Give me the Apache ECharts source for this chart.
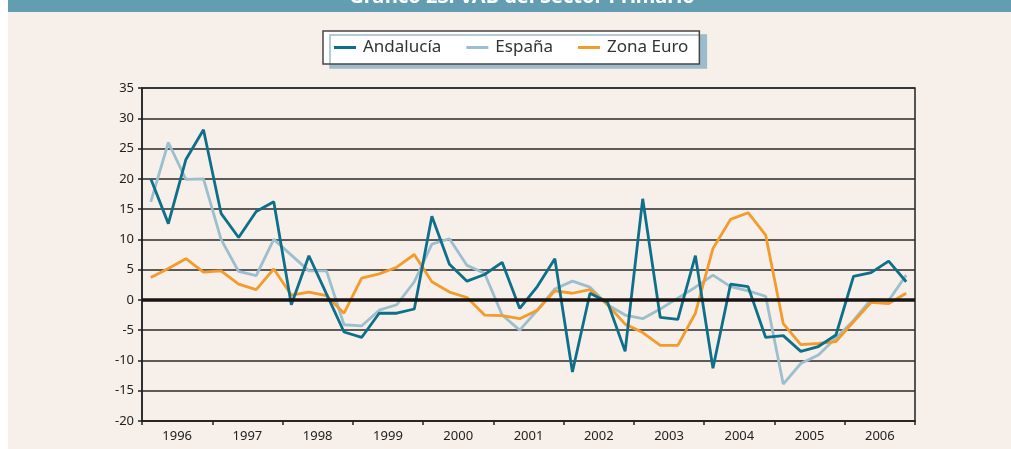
<!DOCTYPE html>
<html>
<head>
<meta charset="utf-8">
<script src="https://cdn.jsdelivr.net/npm/echarts@6/dist/echarts.min.js"></script>
<style>
  html, body { margin: 0; padding: 0; background: #ffffff; }
  #main { width: 1011px; height: 449px; }
</style>
</head>
<body>
<div id="main"></div>
<script>
var years = ['1996', '1997', '1998', '1999', '2000', '2001', '2002', '2003', '2004', '2005', '2006'];
var quarters = [];
years.forEach(function (y) {
    ['I', 'II', 'III', 'IV'].forEach(function (q) { quarters.push(y + '-' + q); });
});

var andalucia = [20, 12.6, 23.2, 28.1, 14.3, 10.3, 14.6, 16.2, -0.8, 7.3, 1.0, -5.3,
    -6.2, -2.2, -2.2, -1.5, 13.8, 5.9, 3.1, 4.2, 6.2, -1.4, 2.2, 6.8,
    -11.9, 1.1, -0.4, -8.5, 16.7, -2.9, -3.2, 7.3, -11.3, 2.6, 2.2, -6.2,
    -5.9, -8.5, -7.7, -5.8, 3.9, 4.5, 6.4, 3.0];
var espana = [16.2, 26.0, 19.9, 20.0, 10.0, 4.7, 4.0, 10.0, 7.4, 4.8, 4.8, -4.1,
    -4.3, -1.7, -0.8, 3.0, 9.2, 10.1, 5.7, 4.4, -2.5, -5.0, -1.7, 1.8,
    3.1, 2.1, -0.8, -2.5, -3.1, -1.5, 0.3, 2.1, 4.1, 2.2, 1.5, 0.6,
    -13.9, -10.5, -9.1, -6.3, -3.4, 0.1, -0.1, 4.1];
var zonaEuro = [3.7, 5.2, 6.8, 4.6, 4.8, 2.6, 1.7, 5.1, 0.8, 1.3, 0.7, -2.2,
    3.6, 4.3, 5.4, 7.5, 3.0, 1.3, 0.4, -2.5, -2.6, -3.1, -1.7, 1.5,
    1.1, 1.7, -0.8, -4.0, -5.4, -7.5, -7.5, -2.2, 8.5, 13.3, 14.4, 10.7,
    -3.9, -7.4, -7.2, -6.9, -3.6, -0.4, -0.6, 1.1];

var chartTitle = 'Gráfico 23. VAB del Sector Primario';

function drawChart() {
    var myChart = echarts.init(document.getElementById('main'));
    var font = 'Noto Sans';
    var option;

    option = {
        backgroundColor: '#f7efe9',
        textStyle: { fontFamily: font },
        animation: false,
        graphic: {
            elements: [
                { type: 'rect', left: 0, top: 0, shape: { width: 8, height: 449 }, style: { fill: '#ffffff' } },
                { type: 'rect', left: 8, top: 0, shape: { width: 1003, height: 12 }, style: { fill: '#629db1' } },
                {
                    // only the lower part of the title shows inside the band
                    type: 'text', x: 522, y: 7,
                    style: {
                        text: chartTitle, fill: '#ffffff', font: 'bold 20px "Noto Sans"',
                        textAlign: 'center', textVerticalAlign: 'bottom'
                    }
                }
            ]
        },
        legend: {
            data: ['Andalucía', 'España', 'Zona Euro'],
            left: 323,
            top: 31,
            padding: [8, 11, 8, 11],
            itemGap: 25,
            itemWidth: 22,
            itemHeight: 3,
            icon: 'rect',
            backgroundColor: '#ffffff',
            borderColor: '#4a4545',
            borderWidth: 1.5,
            shadowColor: '#9bbccb',
            shadowBlur: 0,
            shadowOffsetX: 7,
            shadowOffsetY: 4,
            textStyle: { fontSize: 17, color: '#333333', fontFamily: font, padding: [0, 0, 0, 2] }
        },
        grid: {
            left: 142,
            right: 96,
            top: 88,
            bottom: 28,
            show: true,
            borderColor: '#222222',
            borderWidth: 1.5,
            backgroundColor: 'transparent'
        },
        xAxis: [
            {
                type: 'category',
                data: quarters,
                boundaryGap: true,
                show: false
            },
            {
                type: 'category',
                data: years,
                position: 'bottom',
                boundaryGap: true,
                axisLine: { lineStyle: { color: '#222222', width: 1.5 } },
                axisTick: { show: true, length: 4, interval: 0, lineStyle: { color: '#222222', width: 1.5 } },
                axisLabel: { color: '#222222', fontSize: 13, margin: 9, interval: 0 },
                splitLine: { show: false }
            }
        ],
        yAxis: {
            type: 'value',
            min: -20,
            max: 35,
            interval: 5,
            axisLine: { show: true, lineStyle: { color: '#222222', width: 1.5 } },
            axisTick: { show: true, length: 4, lineStyle: { color: '#222222', width: 1.5 } },
            axisLabel: { color: '#222222', fontSize: 13, margin: 8 },
            splitLine: { show: true, lineStyle: { color: '#2a2a2a', width: 1.5 } }
        },
        series: [
            {
                name: 'cero',
                type: 'line',
                data: [],
                z: 1,
                silent: true,
                markLine: {
                    symbol: 'none',
                    silent: true,
                    label: { show: false },
                    lineStyle: { color: '#1a1414', width: 3.5, type: 'solid' },
                    data: [{ yAxis: 0 }]
                }
            },
            {
                name: 'España',
                type: 'line',
                data: espana,
                z: 3,
                symbol: 'none',
                itemStyle: { color: '#9cbfcd' },
                lineStyle: { color: '#9cbfcd', width: 2.8 }
            },
            {
                name: 'Zona Euro',
                type: 'line',
                data: zonaEuro,
                z: 3,
                symbol: 'none',
                itemStyle: { color: '#f39b2b' },
                lineStyle: { color: '#f39b2b', width: 2.8 }
            },
            {
                name: 'Andalucía',
                type: 'line',
                data: andalucia,
                z: 4,
                symbol: 'none',
                itemStyle: { color: '#0d6f89' },
                lineStyle: { color: '#0d6f89', width: 2.8 }
            }
        ]
    };

    option && myChart.setOption(option);
}

document.addEventListener('DOMContentLoaded', function () {
    drawChart();
});
</script>
</body>
</html>
